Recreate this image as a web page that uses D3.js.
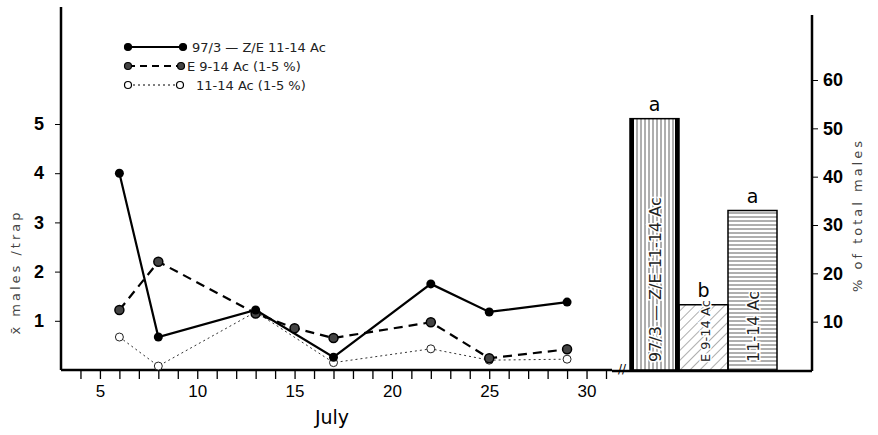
<!DOCTYPE html>
<html>
<head>
<meta charset="utf-8">
<script src="https://cdn.jsdelivr.net/npm/d3@7"></script>
<style>
  body { margin: 0; background: #fff; }
  svg { font-family: "DejaVu Sans", sans-serif; }
</style>
</head>
<body>
<svg width="878" height="435"></svg>
<script>
// values
const days = [6, 8, 13, 17, 22, 25, 29];
const solidVals = [4.0, 0.67, 1.22, 0.26, 1.75, 1.18, 1.38];   // 97/3 -- Z/E 11-14 Ac
const dashDays = [6, 8, 13, 15, 17, 22, 25, 29];
const dashVals = [1.22, 2.2, 1.15, 0.85, 0.65, 0.97, 0.24, 0.42]; // E 9-14 Ac
const dotVals = [0.67, 0.08, 1.18, 0.15, 0.43, 0.2, 0.22];     // 11-14 Ac
const legendLabels = ["97/3 \u2014 Z/E 11-14 Ac", "E 9-14 Ac (1-5 %)", "11-14 Ac (1-5 %)"];

const barNames = ["97/3 \u2014 Z/E 11-14 Ac", "E 9-14 Ac", "11-14 Ac"];
const barVals = [52, 13.5, 33];
const barLetters = ["a", "b", "a"];

const yTicks = [1, 2, 3, 4, 5];
const xLabelTicks = [5, 10, 15, 20, 25, 30];
const rTicks = [10, 20, 30, 40, 50, 60];

const svg = d3.select("svg");

// scales
const x = d3.scaleLinear().domain([3, 31]).range([61, 606]);
const y = d3.scaleLinear().domain([0, 5]).range([370, 124]);
const yr = d3.scaleLinear().domain([0, 60]).range([370, 80]);
const xb = d3.scaleBand().domain(barNames).range([630, 777]).padding(0);

// hatch patterns for the bars
const defs = svg.append("defs");
const pv = defs.append("pattern").attr("id", "vert").attr("patternUnits", "userSpaceOnUse")
  .attr("width", 4).attr("height", 4);
pv.append("line").attr("x1", 1).attr("x2", 1).attr("y1", 0).attr("y2", 4).attr("stroke", "#333").attr("stroke-width", 0.8);
const pd = defs.append("pattern").attr("id", "diag").attr("patternUnits", "userSpaceOnUse")
  .attr("width", 7).attr("height", 7).attr("patternTransform", "rotate(45)");
pd.append("line").attr("x1", 0).attr("x2", 0).attr("y1", 0).attr("y2", 7).attr("stroke", "#333").attr("stroke-width", 0.8);
const ph = defs.append("pattern").attr("id", "horiz").attr("patternUnits", "userSpaceOnUse")
  .attr("width", 4).attr("height", 4);
ph.append("line").attr("x1", 0).attr("x2", 4).attr("y1", 1).attr("y2", 1).attr("stroke", "#333").attr("stroke-width", 0.8);
const fills = ["url(#vert)", "url(#diag)", "url(#horiz)"];

// left axis
svg.append("line").attr("x1", 61).attr("x2", 61).attr("y1", 7).attr("y2", y(0))
  .attr("stroke", "#000").attr("stroke-width", 2.5);
const yl = svg.append("g").attr("transform", "translate(61,0)")
  .call(d3.axisLeft(y).tickValues(yTicks).tickSize(6).tickFormat(d3.format("d")));
yl.select(".domain").remove();
yl.selectAll("line").attr("stroke-width", 1);
yl.selectAll("text").attr("font-size", 18).attr("font-weight", "bold").attr("dx", "-8");

// bottom axis
svg.append("line").attr("x1", 61).attr("x2", 612).attr("y1", y(0)).attr("y2", y(0))
  .attr("stroke", "#000").attr("stroke-width", 2.5);
const xa = svg.append("g").attr("transform", `translate(0,${y(0)})`)
  .call(d3.axisBottom(x).tickValues(d3.range(4, 32)).tickSize(9).tickFormat(d => xLabelTicks.includes(d) ? d : ""));
xa.select(".domain").remove();
xa.selectAll("line").attr("stroke-width", 1.3);
xa.selectAll("text").attr("font-size", 17).attr("dy", "0.9em");

svg.append("text").attr("x", 332).attr("y", 424).attr("text-anchor", "middle")
  .attr("font-size", 19).text("July");

// axis break marks
svg.append("text").attr("x", 622).attr("y", 373).attr("font-size", 12).attr("text-anchor", "middle").text("//");

// left axis title
svg.append("text").attr("transform", "translate(20,272) rotate(-90)").attr("text-anchor", "middle")
  .attr("font-size", 13).attr("letter-spacing", 3).attr("fill", "#444").text("x\u0304 males /trap");

// series lines
const line = d3.line().x(d => x(d[0])).y(d => y(d[1]));
const sSolid = days.map((d, i) => [d, solidVals[i]]);
const sDash = dashDays.map((d, i) => [d, dashVals[i]]);
const sDot = days.map((d, i) => [d, dotVals[i]]);

svg.append("path").datum(sDot).attr("d", line).attr("fill", "none")
  .attr("stroke", "#333").attr("stroke-width", 1).attr("stroke-dasharray", "2,3");
svg.append("path").datum(sDash).attr("d", line).attr("fill", "none")
  .attr("stroke", "#000").attr("stroke-width", 2.2).attr("stroke-dasharray", "9,6");
svg.append("path").datum(sSolid).attr("d", line).attr("fill", "none")
  .attr("stroke", "#000").attr("stroke-width", 2.2);

svg.selectAll(".pdot").data(sDot).enter().append("circle").attr("class", "pdot")
  .attr("cx", d => x(d[0])).attr("cy", d => y(d[1])).attr("r", 4)
  .attr("fill", "#fff").attr("stroke", "#222").attr("stroke-width", 1);
svg.selectAll(".pdash").data(sDash).enter().append("circle").attr("class", "pdash")
  .attr("cx", d => x(d[0])).attr("cy", d => y(d[1])).attr("r", 4.5)
  .attr("fill", "#444").attr("stroke", "#000").attr("stroke-width", 1.5);
svg.selectAll(".psolid").data(sSolid).enter().append("circle").attr("class", "psolid")
  .attr("cx", d => x(d[0])).attr("cy", d => y(d[1])).attr("r", 4.5)
  .attr("fill", "#000");

// legend
const lg = svg.append("g");
const legStyles = [
  { dash: null, w: 2.2, fill: "#000", x2: 183, tx: 192 },
  { dash: "7,5", w: 2.2, fill: "#444", x2: 181, tx: 187 },
  { dash: "2,3", w: 1, fill: "#fff", x2: 180, tx: 196 }
];
legendLabels.forEach((lab, i) => {
  const ly = 47 + i * 19, s = legStyles[i];
  lg.append("line").attr("x1", 128).attr("x2", s.x2).attr("y1", ly).attr("y2", ly)
    .attr("stroke", "#000").attr("stroke-width", s.w).attr("stroke-dasharray", s.dash);
  [128, s.x2].forEach(cx => lg.append("circle").attr("cx", cx).attr("cy", ly).attr("r", 3.5)
    .attr("fill", s.fill).attr("stroke", "#000").attr("stroke-width", 1.2));
  lg.append("text").attr("x", s.tx).attr("y", ly + 5).attr("font-size", 13).attr("fill", "#222").text(lab);
});

// bar chart
svg.append("line").attr("x1", 612).attr("x2", 812).attr("y1", yr(0) + 1).attr("y2", yr(0) + 1)
  .attr("stroke", "#000").attr("stroke-width", 2.5);
svg.append("line").attr("x1", 812).attr("x2", 812).attr("y1", 15).attr("y2", yr(0) + 1)
  .attr("stroke", "#000").attr("stroke-width", 2.5);
const ra = svg.append("g").attr("transform", "translate(812,0)")
  .call(d3.axisRight(yr).tickValues(rTicks).tickSize(6).tickFormat(d3.format("d")));
ra.select(".domain").remove();
ra.selectAll("text").attr("font-size", 18).attr("font-weight", "bold").attr("dx", "2");

svg.append("text").attr("transform", "translate(862,215) rotate(-90)").attr("text-anchor", "middle")
  .attr("font-size", 13).attr("letter-spacing", 3).attr("fill", "#444").text("% of total males");

const bars = svg.selectAll(".bar").data(barNames).enter().append("g").attr("class", "bar");
bars.append("rect")
  .attr("x", d => xb(d)).attr("width", xb.bandwidth())
  .attr("y", (d, i) => yr(barVals[i])).attr("height", (d, i) => yr(0) - yr(barVals[i]))
  .attr("fill", (d, i) => fills[i]).attr("stroke", "#000")
  .attr("stroke-width", 1.5);
// heavy side edges on the first bar, as in the print
bars.filter((d, i) => i === 0).each(function (d) {
  const g = d3.select(this);
  [xb(d) + 2, xb(d) + xb.bandwidth() - 2].forEach(ex => g.append("line")
    .attr("x1", ex).attr("x2", ex).attr("y1", yr(barVals[0])).attr("y2", yr(0))
    .attr("stroke", "#000").attr("stroke-width", 4));
});
bars.append("text")
  .attr("transform", (d, i) => `translate(${xb(d) + xb.bandwidth() / 2 + 6},${yr(0) - 8}) rotate(-90)`)
  .attr("font-size", (d, i) => i === 1 ? 13 : 16).attr("fill", "#222")
  .attr("paint-order", "stroke").attr("stroke", "#fff").attr("stroke-width", 3)
  .text(d => d);
bars.append("text")
  .attr("x", d => xb(d) + xb.bandwidth() / 2).attr("y", (d, i) => yr(barVals[i]) - 8)
  .attr("text-anchor", "middle").attr("font-size", 19).text((d, i) => barLetters[i]);
</script>
</body>
</html>
